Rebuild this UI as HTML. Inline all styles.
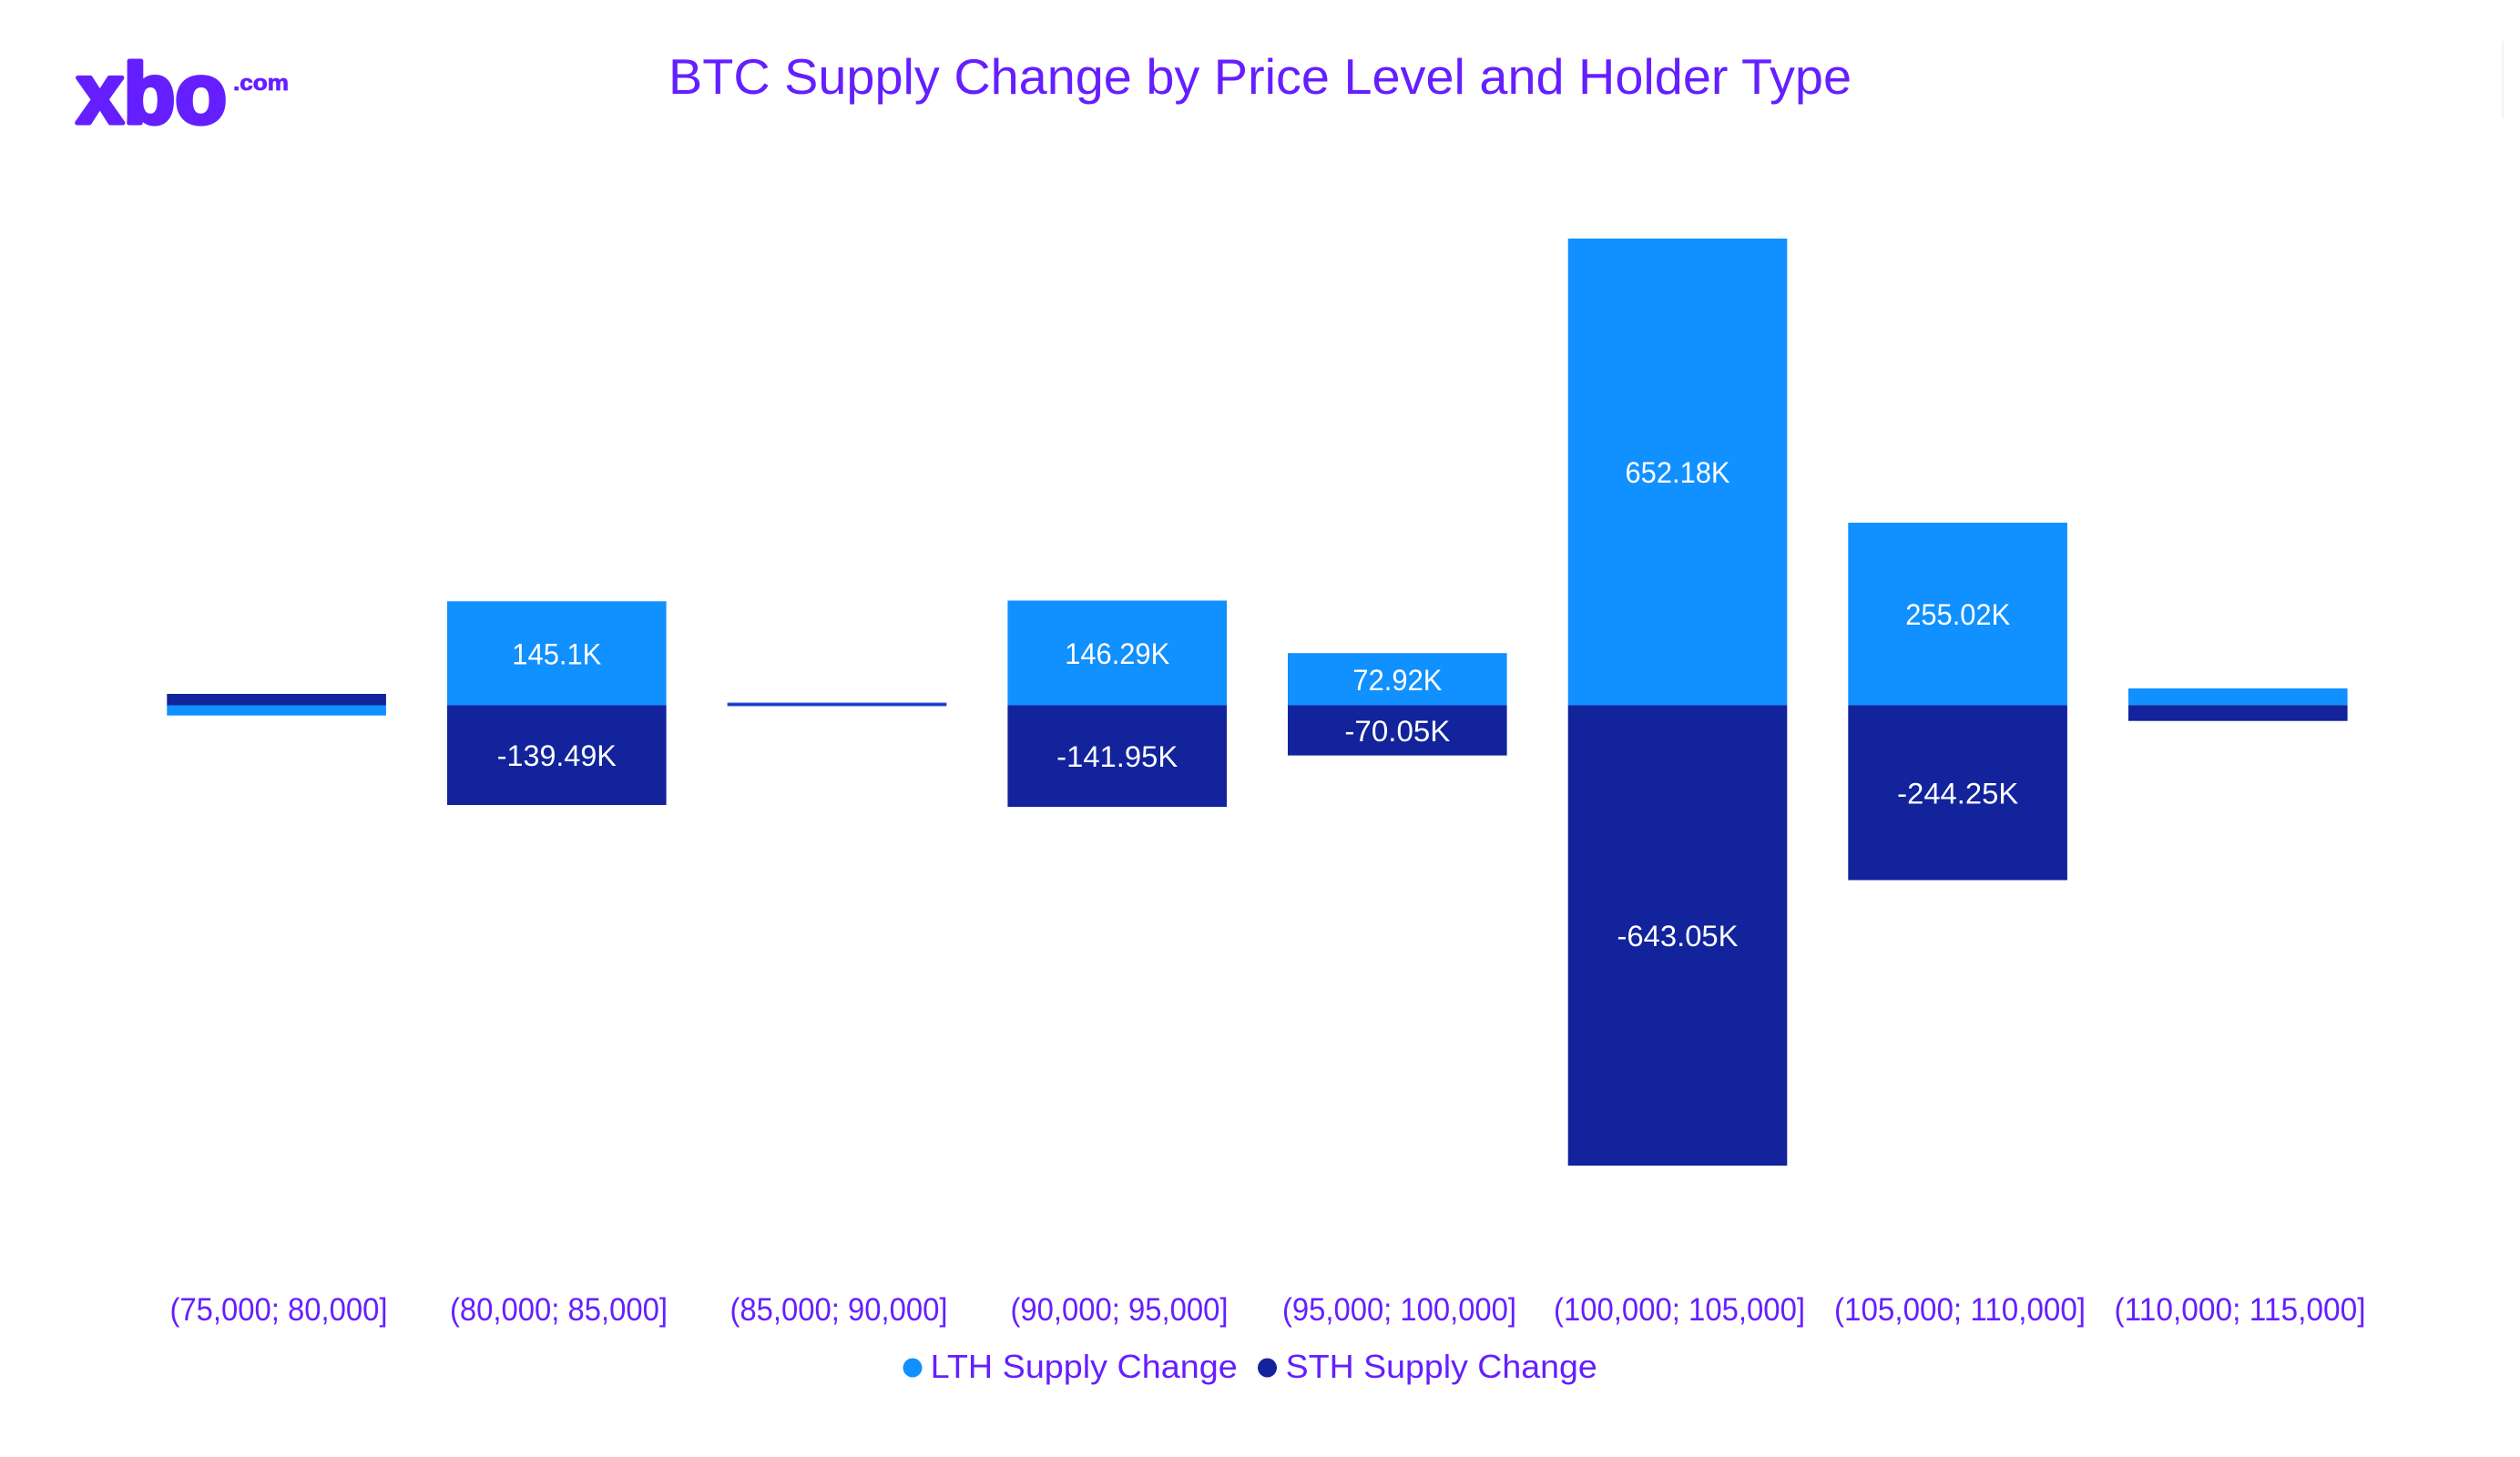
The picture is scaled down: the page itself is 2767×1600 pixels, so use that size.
<!DOCTYPE html>
<html>
<head>
<meta charset="utf-8">
<style>
  html, body { margin: 0; padding: 0; background: #ffffff; }
  body { width: 2767px; height: 1600px; overflow: hidden; }
  svg { display: block; }
  text { font-family: "Liberation Sans", "DejaVu Sans", sans-serif; }
</style>
</head>
<body>
<svg width="2767" height="1600" viewBox="0 0 2767 1600" xmlns="http://www.w3.org/2000/svg">
  <rect x="0" y="0" width="2767" height="1600" fill="#ffffff"/>

  <!-- Logo -->
  <text x="84" y="135" font-size="94" font-weight="bold" fill="#651fff" stroke="#651fff" stroke-width="5" stroke-linejoin="round" textLength="165" lengthAdjust="spacingAndGlyphs">xbo</text>
  <text x="256" y="99" font-size="24" font-weight="bold" fill="#651fff" stroke="#651fff" stroke-width="0.8" textLength="61" lengthAdjust="spacingAndGlyphs">.com</text>

  <!-- faint line top-right -->
  <line x1="2748" y1="45" x2="2748" y2="130" stroke="#f2f2f2" stroke-width="2"/>

  <!-- Title -->
  <text x="734" y="103" font-size="55" fill="#651fff" textLength="1299" lengthAdjust="spacingAndGlyphs">BTC Supply Change by Price Level and Holder Type</text>

  <!-- Bars -->
  <rect x="183.3" y="762" width="240.6" height="12.5" fill="#12239b"/>
  <rect x="183.3" y="774.5" width="240.6" height="11.2" fill="#1190ff"/>

  <rect x="491" y="660.3" width="240.6" height="114.2" fill="#1190ff"/>
  <rect x="491" y="774.5" width="240.6" height="109.5" fill="#12239b"/>

  <rect x="798.7" y="771.3" width="240.6" height="4.4" fill="#6f8fe8"/>
  <rect x="798.7" y="772.3" width="240.6" height="2.6" fill="#1b33c2"/>

  <rect x="1106.4" y="659.5" width="240.6" height="115" fill="#1190ff"/>
  <rect x="1106.4" y="774.5" width="240.6" height="111.6" fill="#12239b"/>

  <rect x="1414" y="717.2" width="240.6" height="57.3" fill="#1190ff"/>
  <rect x="1414" y="774.5" width="240.6" height="55.1" fill="#12239b"/>

  <rect x="1721.7" y="262" width="240.6" height="512.5" fill="#1190ff"/>
  <rect x="1721.7" y="774.5" width="240.6" height="505.5" fill="#12239b"/>

  <rect x="2029.3" y="574" width="240.6" height="200.5" fill="#1190ff"/>
  <rect x="2029.3" y="774.5" width="240.6" height="192" fill="#12239b"/>

  <rect x="2337" y="756" width="240.6" height="18.4" fill="#1190ff"/>
  <rect x="2337" y="774.4" width="240.6" height="17.3" fill="#12239b"/>

  <!-- Data labels -->
  <g fill="#ffffff" font-size="32" text-anchor="middle">
    <text x="611.3" y="729.5" textLength="98" lengthAdjust="spacingAndGlyphs">145.1K</text>
    <text x="611.3" y="841" textLength="131" lengthAdjust="spacingAndGlyphs">-139.49K</text>

    <text x="1226.7" y="729" textLength="115" lengthAdjust="spacingAndGlyphs">146.29K</text>
    <text x="1226.7" y="842" textLength="133" lengthAdjust="spacingAndGlyphs">-141.95K</text>

    <text x="1534.4" y="758" textLength="98" lengthAdjust="spacingAndGlyphs">72.92K</text>
    <text x="1534.4" y="814" textLength="116" lengthAdjust="spacingAndGlyphs">-70.05K</text>

    <text x="1842" y="530" textLength="115" lengthAdjust="spacingAndGlyphs">652.18K</text>
    <text x="1842" y="1039" textLength="133" lengthAdjust="spacingAndGlyphs">-643.05K</text>

    <text x="2149.7" y="686" textLength="115" lengthAdjust="spacingAndGlyphs">255.02K</text>
    <text x="2149.7" y="882.5" textLength="133" lengthAdjust="spacingAndGlyphs">-244.25K</text>
  </g>

  <!-- X-axis category labels -->
  <g fill="#651fff" font-size="35" text-anchor="middle">
    <text x="306" y="1450" textLength="239" lengthAdjust="spacingAndGlyphs">(75,000; 80,000]</text>
    <text x="613.5" y="1450" textLength="239" lengthAdjust="spacingAndGlyphs">(80,000; 85,000]</text>
    <text x="921" y="1450" textLength="239" lengthAdjust="spacingAndGlyphs">(85,000; 90,000]</text>
    <text x="1229" y="1450" textLength="239" lengthAdjust="spacingAndGlyphs">(90,000; 95,000]</text>
    <text x="1536.5" y="1450" textLength="257" lengthAdjust="spacingAndGlyphs">(95,000; 100,000]</text>
    <text x="1844" y="1450" textLength="276" lengthAdjust="spacingAndGlyphs">(100,000; 105,000]</text>
    <text x="2152" y="1450" textLength="276" lengthAdjust="spacingAndGlyphs">(105,000; 110,000]</text>
    <text x="2459.5" y="1450" textLength="276" lengthAdjust="spacingAndGlyphs">(110,000; 115,000]</text>
  </g>

  <!-- Legend -->
  <circle cx="1002" cy="1502" r="10.5" fill="#1190ff"/>
  <text x="1021.7" y="1513" font-size="36" fill="#651fff" textLength="337" lengthAdjust="spacingAndGlyphs">LTH Supply Change</text>
  <circle cx="1391.5" cy="1502" r="10.5" fill="#12239b"/>
  <text x="1411.7" y="1513" font-size="36" fill="#651fff" textLength="342" lengthAdjust="spacingAndGlyphs">STH Supply Change</text>
</svg>
</body>
</html>
